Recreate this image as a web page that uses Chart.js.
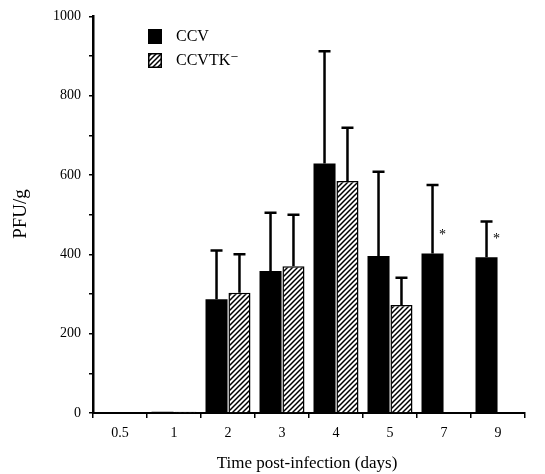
<!DOCTYPE html>
<html><head><meta charset="utf-8">
<script src="https://cdn.jsdelivr.net/npm/chart.js@4"></script>
<style>html,body{margin:0;padding:0;background:#fff;}canvas{display:block;}</style>
</head><body>
<canvas id="c" width="545" height="474"></canvas>
<script>
const categories = ['0.5', '1', '2', '3', '4', '5', '7', '9'];
const ccvValues = [0, 3, 287, 358, 629, 396, 402, 393];
const ccvErrors = [0, 0, 123, 147, 283, 212, 173, 90];
const tkValues = [0, 3, 303, 370, 585, 272, 0, 0];
const tkErrors = [0, 0, 97, 130, 134, 69, 0, 0];
const ccvMarks = ['', '', '', '', '', '', '*', '*'];
const seriesNames = ['CCV', 'CCVTK\u207B'];
const yTitle = 'PFU/g';
const xTitle = 'Time post-infection (days)';

const FONT = '"Liberation Serif", "DejaVu Serif", serif';

const ctx0 = document.getElementById('c').getContext('2d');
const hatch = ctx0.createPattern((function(){
  const s = 5;
  const c = document.createElement('canvas');
  c.width = s; c.height = s;
  const g = c.getContext('2d');
  g.fillStyle = '#fff'; g.fillRect(0, 0, s, s);
  g.strokeStyle = '#000'; g.lineWidth = 1.5;
  g.beginPath();
  g.moveTo(-1, s + 1); g.lineTo(s + 1, -1);
  g.moveTo(-1, 1); g.lineTo(1, -1);
  g.moveTo(s - 1, s + 1); g.lineTo(s + 1, s - 1);
  g.stroke();
  return c;
})(), 'repeat');

const errorPlugin = {
  id: 'errs',
  afterDatasetsDraw(chart) {
    const ctx = chart.ctx;
    const y = chart.scales.y;
    const errs = [ccvErrors, tkErrors];
    ctx.save();
    ctx.strokeStyle = '#000';
    ctx.lineWidth = 2.5;
    chart.data.datasets.forEach((ds, di) => {
      const meta = chart.getDatasetMeta(di);
      meta.data.forEach((bar, i) => {
        const e = errs[di][i];
        if (!e) return;
        const top = y.getPixelForValue(ds.data[i] + e);
        ctx.beginPath();
        ctx.moveTo(bar.x, bar.y);
        ctx.lineTo(bar.x, top);
        ctx.moveTo(bar.x - 6, top);
        ctx.lineTo(bar.x + 6, top);
        ctx.stroke();
      });
    });
    // significance marks
    const meta0 = chart.getDatasetMeta(0);
    ctx.fillStyle = '#000';
    ctx.font = '14px ' + FONT;
    ctx.textAlign = 'center';
    ctx.textBaseline = 'middle';
    meta0.data.forEach((bar, i) => {
      if (ccvMarks[i]) ctx.fillText(ccvMarks[i], bar.x + 10, bar.y - 18);
    });
    // legend
    ctx.fillStyle = '#000';
    ctx.fillRect(148, 29, 14, 15);
    ctx.fillStyle = hatch;
    ctx.fillRect(148, 53, 14, 15);
    ctx.strokeStyle = '#000';
    ctx.lineWidth = 1.5;
    ctx.strokeRect(148.75, 53.75, 12.5, 13.5);
    ctx.fillStyle = '#000';
    ctx.font = '16px ' + FONT;
    ctx.textAlign = 'left';
    ctx.fillText(seriesNames[0], 176, 37);
    ctx.fillText(seriesNames[1], 176, 61);
    // axis titles
    ctx.font = '17px ' + FONT;
    ctx.textAlign = 'center';
    ctx.fillText(xTitle, 307, 464);
    ctx.save();
    ctx.translate(21, 214);
    ctx.rotate(-Math.PI / 2);
    ctx.font = '19px ' + FONT;
    ctx.fillText(yTitle, 0, 0);
    ctx.restore();
    ctx.restore();
  }
};

new Chart(ctx0, {
  type: 'bar',
  data: {
    labels: categories,
    datasets: [
      { label: seriesNames[0], data: ccvValues, backgroundColor: '#000', borderColor: '#000', borderWidth: 0 },
      { label: seriesNames[1], data: tkValues, backgroundColor: hatch, borderColor: '#000', borderWidth: 1.5 }
    ]
  },
  options: {
    responsive: false,
    animation: false,
    events: [],
    layout: { padding: { top: 15, right: 20, left: 0, bottom: 0 } },
    datasets: { bar: { categoryPercentage: 0.85, barPercentage: 0.96 } },
    plugins: { legend: { display: false }, tooltip: { enabled: false } },
    scales: {
      x: {
        offset: true,
        grid: { display: true, drawOnChartArea: false, offset: true, tickLength: 5, color: '#000', lineWidth: 1.5 },
        border: { display: true, color: '#000', width: 2 },
        ticks: { color: '#000', font: { family: FONT, size: 14 }, padding: 7 },
        afterFit(s) { s.height = 61; }
      },
      y: {
        min: 0, max: 1000,
        grid: { display: true, drawOnChartArea: false, tickLength: 4, color: '#000', lineWidth: 1.5 },
        border: { display: true, color: '#000', width: 2.5 },
        ticks: {
          stepSize: 100, color: '#000', font: { family: FONT, size: 14 }, padding: 8,
          autoSkip: false,
          callback: v => (v % 200 === 0 ? String(v) : '')
        },
        afterFit(s) { s.width = 93; }
      }
    }
  },
  plugins: [errorPlugin]
});
</script>
</body></html>
